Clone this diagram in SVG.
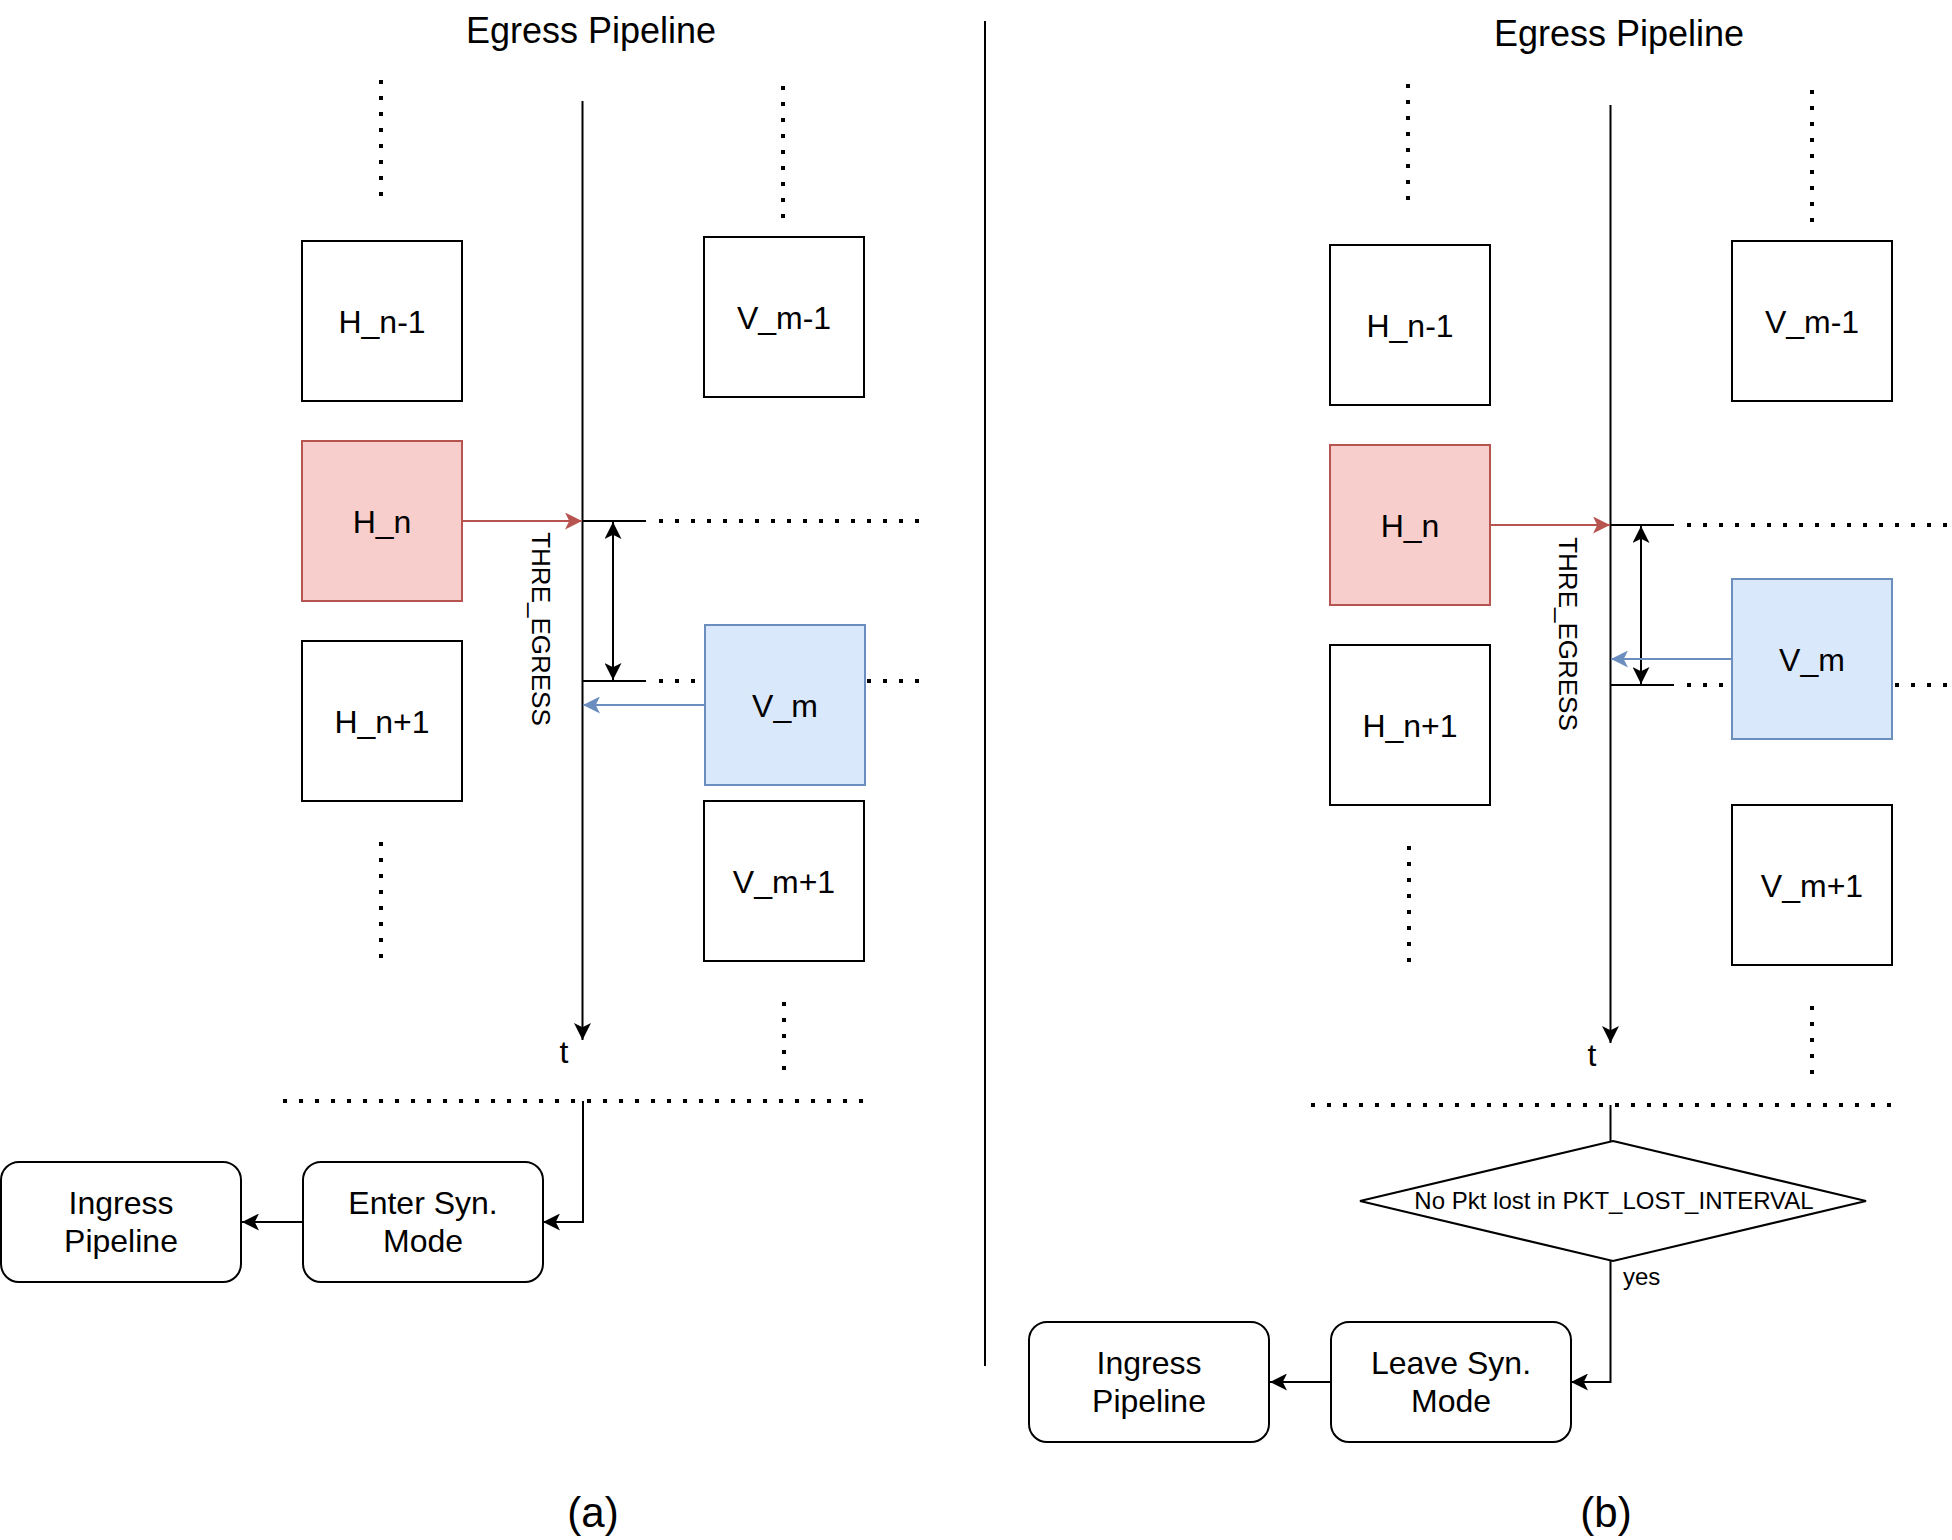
<svg xmlns="http://www.w3.org/2000/svg" width="1952" height="1540" viewBox="0 0 1952 1540">
<style>
text { font-family: "Liberation Sans", Arial, Helvetica, sans-serif; fill: #000; }
.lbl { font-size: 32px; text-anchor: middle; }
.title { font-size: 36px; text-anchor: middle; }
.cap { font-size: 42px; text-anchor: middle; }
.small { font-size: 24px; }
.box { fill: #fff; stroke: #000; stroke-width: 2; }
.red { fill: #f8cecc; stroke: #b85450; stroke-width: 2; }
.blue { fill: #dae8fc; stroke: #6c8ebf; stroke-width: 2; }
.ln { fill: none; stroke: #000; stroke-width: 2; }
.dot { fill: none; stroke: #000; stroke-width: 4; stroke-dasharray: 4 12; }
.arr { marker-end: url(#ah); }
.rarr { fill: none; stroke: #b85450; stroke-width: 2; marker-end: url(#ahr); }
.barr { fill: none; stroke: #6c8ebf; stroke-width: 2; marker-end: url(#ahb); }
.dbl { marker-start: url(#ah); marker-end: url(#ah); }
</style>
<defs>
<marker id="ah" viewBox="0 0 17 17" refX="17" refY="8.5" markerWidth="17" markerHeight="17" markerUnits="userSpaceOnUse" orient="auto-start-reverse">
<path d="M17,8.5 L0,0 L4.25,8.5 L0,17 Z" fill="#000"/>
</marker>
<marker id="ahr" viewBox="0 0 17 17" refX="17" refY="8.5" markerWidth="17" markerHeight="17" markerUnits="userSpaceOnUse" orient="auto">
<path d="M17,8.5 L0,0 L4.25,8.5 L0,17 Z" fill="#b85450"/>
</marker>
<marker id="ahb" viewBox="0 0 17 17" refX="17" refY="8.5" markerWidth="17" markerHeight="17" markerUnits="userSpaceOnUse" orient="auto">
<path d="M17,8.5 L0,0 L4.25,8.5 L0,17 Z" fill="#6c8ebf"/>
</marker>
</defs>
<rect width="1952" height="1540" fill="#fff"/>

<g id="connectors">
  <!-- divider -->
  <line class="ln" x1="985" y1="21" x2="985" y2="1366"/>
  <!-- left panel -->
  <line class="ln arr" x1="582.5" y1="101" x2="582.5" y2="1040"/>
  <line class="dot" x1="381" y1="80" x2="381" y2="200"/>
  <line class="dot" x1="783" y1="86" x2="783" y2="218"/>
  <line class="dot" x1="381" y1="842" x2="381" y2="958"/>
  <line class="dot" x1="784" y1="1002" x2="784" y2="1070"/>
  <line class="rarr" x1="462" y1="521" x2="582" y2="521"/>
  <line class="ln" x1="582" y1="521" x2="646" y2="521"/>
  <line class="dot" x1="659" y1="521" x2="926" y2="521"/>
  <line class="ln" x1="582" y1="681" x2="646" y2="681"/>
  <line class="dot" x1="659" y1="681" x2="926" y2="681"/>
  <line class="ln dbl" x1="613" y1="522" x2="613" y2="680"/>
  <line class="barr" x1="705" y1="705" x2="583" y2="705"/>
  <line class="dot" x1="283" y1="1101" x2="868" y2="1101"/>
  <polyline class="ln arr" points="583,1101 583,1222 543,1222"/>
  <line class="ln arr" x1="303" y1="1222" x2="242" y2="1222"/>
  <!-- right panel -->
  <line class="ln arr" x1="1610.5" y1="105" x2="1610.5" y2="1043"/>
  <line class="dot" x1="1408" y1="84" x2="1408" y2="204"/>
  <line class="dot" x1="1812" y1="90" x2="1812" y2="222"/>
  <line class="dot" x1="1409" y1="846" x2="1409" y2="962"/>
  <line class="dot" x1="1812" y1="1006" x2="1812" y2="1074"/>
  <line class="rarr" x1="1490" y1="525" x2="1610" y2="525"/>
  <line class="ln" x1="1610" y1="525" x2="1674" y2="525"/>
  <line class="dot" x1="1687" y1="525" x2="1952" y2="525"/>
  <line class="ln" x1="1610" y1="685" x2="1674" y2="685"/>
  <line class="dot" x1="1687" y1="685" x2="1952" y2="685"/>
  <line class="ln dbl" x1="1641" y1="526" x2="1641" y2="684"/>
  <line class="barr" x1="1732" y1="659" x2="1611" y2="659"/>
  <line class="dot" x1="1311" y1="1105" x2="1896" y2="1105"/>
  <line class="ln" x1="1610.5" y1="1105" x2="1610.5" y2="1142"/>
  <polyline class="ln arr" points="1610.5,1261 1610.5,1382 1571,1382"/>
  <line class="ln arr" x1="1331" y1="1382" x2="1270" y2="1382"/>
</g>

<g id="labels">
  <text class="title" x="591" y="43">Egress Pipeline</text>
  <text class="title" x="1619" y="46">Egress Pipeline</text>
  <text class="lbl" x="564" y="1063">t</text>
  <text class="lbl" x="1592" y="1066">t</text>
  <text font-size="26" text-anchor="middle" transform="translate(541,629) rotate(90)" y="9">THRE_EGRESS</text>
  <text font-size="26" text-anchor="middle" transform="translate(1568,634) rotate(90)" y="9">THRE_EGRESS</text>
  <text class="small" x="1623" y="1285">yes</text>
  <text class="cap" x="593" y="1527">(a)</text>
  <text class="cap" x="1606" y="1527">(b)</text>
</g>

<g id="H_n-1_a"><rect class="box" x="302" y="241" width="160" height="160"/><text class="lbl" x="382" y="332.5">H_n-1</text></g>
<g id="H_n_a"><rect class="red" x="302" y="441" width="160" height="160"/><text class="lbl" x="382" y="532.5">H_n</text></g>
<g id="H_n1_a"><rect class="box" x="302" y="641" width="160" height="160"/><text class="lbl" x="382" y="732.5">H_n+1</text></g>
<g id="V_m-1_a"><rect class="box" x="704" y="237" width="160" height="160"/><text class="lbl" x="784" y="328.5">V_m-1</text></g>
<g id="V_m_a"><rect class="blue" x="705" y="625" width="160" height="160"/><text class="lbl" x="785" y="716.5">V_m</text></g>
<g id="V_m1_a"><rect class="box" x="704" y="801" width="160" height="160"/><text class="lbl" x="784" y="892.5">V_m+1</text></g>
<g id="Enter_a"><rect class="box" x="303" y="1162" width="240" height="120" rx="18"/><text class="lbl" x="423" y="1214">Enter Syn.</text><text class="lbl" x="423" y="1252">Mode</text></g>
<g id="Ingress_a"><rect class="box" x="1" y="1162" width="240" height="120" rx="18"/><text class="lbl" x="121" y="1214">Ingress</text><text class="lbl" x="121" y="1252">Pipeline</text></g>

<g id="H_n-1_b"><rect class="box" x="1330" y="245" width="160" height="160"/><text class="lbl" x="1410" y="336.5">H_n-1</text></g>
<g id="H_n_b"><rect class="red" x="1330" y="445" width="160" height="160"/><text class="lbl" x="1410" y="536.5">H_n</text></g>
<g id="H_n1_b"><rect class="box" x="1330" y="645" width="160" height="160"/><text class="lbl" x="1410" y="736.5">H_n+1</text></g>
<g id="V_m-1_b"><rect class="box" x="1732" y="241" width="160" height="160"/><text class="lbl" x="1812" y="332.5">V_m-1</text></g>
<g id="V_m_b"><rect class="blue" x="1732" y="579" width="160" height="160"/><text class="lbl" x="1812" y="670.5">V_m</text></g>
<g id="V_m1_b"><rect class="box" x="1732" y="805" width="160" height="160"/><text class="lbl" x="1812" y="896.5">V_m+1</text></g>
<g id="Decision_b"><polygon class="box" points="1613,1141 1866,1201 1613,1261 1360,1201"/><text class="small" text-anchor="middle" x="1614" y="1209">No Pkt lost in PKT_LOST_INTERVAL</text></g>
<g id="Leave_b"><rect class="box" x="1331" y="1322" width="240" height="120" rx="18"/><text class="lbl" x="1451" y="1374">Leave Syn.</text><text class="lbl" x="1451" y="1412">Mode</text></g>
<g id="Ingress_b"><rect class="box" x="1029" y="1322" width="240" height="120" rx="18"/><text class="lbl" x="1149" y="1374">Ingress</text><text class="lbl" x="1149" y="1412">Pipeline</text></g>
</svg>
